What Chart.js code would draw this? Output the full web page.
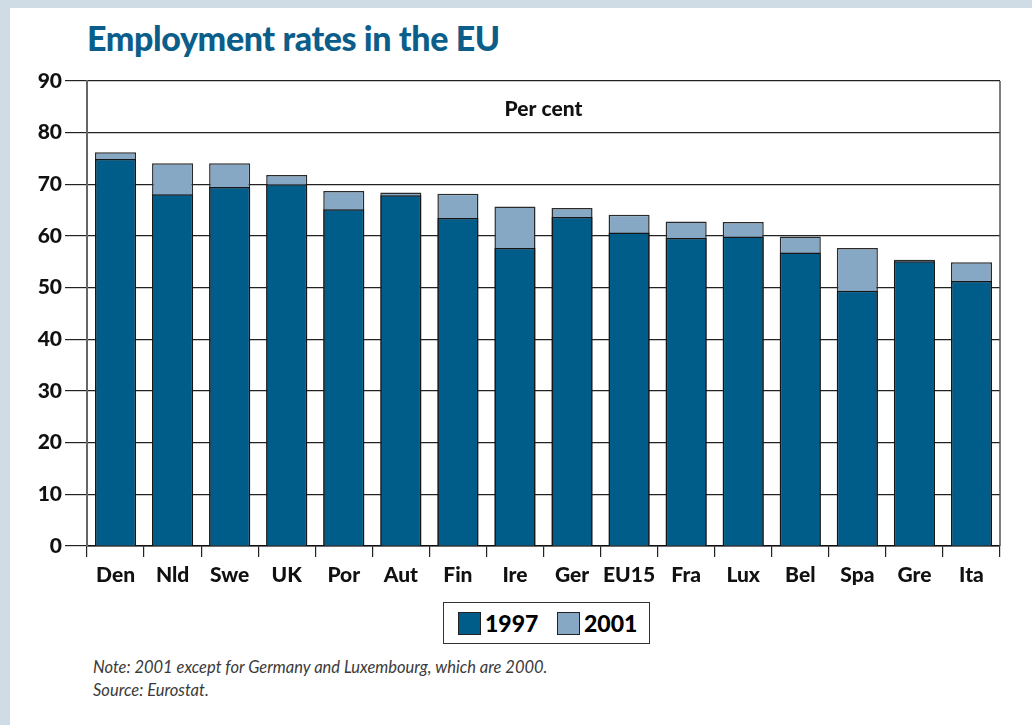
<!DOCTYPE html>
<html lang="en">
<head>
  <meta charset="UTF-8">
  <title>Employment rates in the EU</title>
  <style>
    body {
      margin: 0;
      width: 1032px;
      height: 725px;
      background: #fff;
      position: relative;
      overflow: hidden;
      font-family: Lato, "Open Sans", sans-serif;
    }
    /* light blue frame, top and left */
    .frame-top { position: absolute; left: 0; top: 0; width: 1032px; height: 8px; background: #cfdce6; }
    .frame-left { position: absolute; left: 0; top: 0; width: 10px; height: 725px; background: #cfdce6; }
    h1 {
      position: absolute;
      left: 87px;
      top: 17px;
      margin: 0;
      font-size: 34px;
      font-weight: 900;
      color: #0b5e8a;
      letter-spacing: -0.4px;
    }
    #wrap { position: absolute; left: 0; top: 0; width: 1032px; height: 600px; }
    .legend {
      position: absolute;
      left: 443px;
      top: 602px;
      width: 205px;
      height: 40px;
      border: 1px solid #333;
      font-weight: 900;
      font-size: 23px;
    }
    .legend span { position: absolute; top: 6px; }
    .legend i { position: absolute; top: 9px; width: 21px; height: 21px; border: 1px solid #222; }
    .note {
      position: absolute;
      left: 93px;
      top: 656px;
      font-size: 16.5px;
      font-style: italic;
      font-weight: 400;
      color: #3a3a3a;
      line-height: 23px;
    }
  </style>
  <script src="https://cdn.jsdelivr.net/npm/chart.js@4"></script>
</head>
<body>
  <div class="frame-top"></div>
  <div class="frame-left"></div>
  <h1>Employment rates in the EU</h1>
  <div id="wrap"><canvas id="chart" width="1032" height="600"></canvas></div>

  <div class="legend">
    <i style="left:14px; background:#005c89;"></i><span style="left:41px;">1997</span>
    <i style="left:113px; background:#86a8c5;"></i><span style="left:140px;">2001</span>
  </div>

  <div class="note">Note: 2001 except for Germany and Luxembourg, which are 2000.<br>Source: Eurostat.</div>

  <script>
    // data
    const countries = ['Den', 'Nld', 'Swe', 'UK', 'Por', 'Aut', 'Fin', 'Ire', 'Ger', 'EU15', 'Fra', 'Lux', 'Bel', 'Spa', 'Gre', 'Ita'];
    const rate1997 = [74.9, 68.1, 69.5, 70.0, 65.2, 67.9, 63.5, 57.7, 63.7, 60.7, 59.6, 59.9, 56.8, 49.4, 55.1, 51.3];
    const rate2001 = [76.2, 74.1, 74.1, 71.8, 68.7, 68.4, 68.2, 65.7, 65.4, 64.1, 62.8, 62.7, 59.9, 57.7, 55.4, 54.9];
    const yTicks = [0, 10, 20, 30, 40, 50, 60, 70, 80, 90];

    const darkBlue = '#005c89';
    const lightBlue = '#86a8c5';
    const labelFont = { family: 'Lato, "Open Sans", sans-serif', size: 21, weight: '900' };

    // "Per cent" text and right edge of the plot frame
    const frameAndCaption = {
      id: 'frameAndCaption',
      afterDraw(chart) {
        const { ctx, chartArea } = chart;
        ctx.save();
        ctx.strokeStyle = '#555';
        ctx.lineWidth = 1.5;
        ctx.beginPath();
        ctx.moveTo(chartArea.right, chartArea.top);
        ctx.lineTo(chartArea.right, chartArea.bottom);
        ctx.stroke();
        ctx.fillStyle = '#111';
        ctx.font = '900 21px Lato, "Open Sans", sans-serif';
        ctx.textAlign = 'center';
        ctx.textBaseline = 'middle';
        ctx.fillText('Per cent', (chartArea.left + chartArea.right) / 2, 109);
        ctx.restore();
      }
    };

    new Chart(document.getElementById('chart'), {
      type: 'bar',
      data: {
        labels: countries,
        datasets: [
          {
            label: '1997',
            data: rate1997,
            backgroundColor: darkBlue,
            borderColor: '#151515',
            borderWidth: 1.5,
            order: 0
          },
          {
            label: '2001',
            data: rate2001,
            backgroundColor: lightBlue,
            borderColor: '#2a2a2a',
            borderWidth: 1.5,
            order: 1
          }
        ]
      },
      options: {
        responsive: false,
        animation: false,
        layout: { padding: { top: 81, right: 32, left: 0, bottom: 0 } },
        datasets: { bar: { barPercentage: 0.72, categoryPercentage: 1 } },
        plugins: {
          legend: { display: false },
          tooltip: { enabled: false }
        },
        scales: {
          x: {
            stacked: true,
            grid: { drawOnChartArea: false, drawTicks: true, tickLength: 11, color: '#222', lineWidth: 1.2 },
            border: { color: '#111', width: 1.5 },
            ticks: { color: '#111', font: labelFont, padding: 6, maxRotation: 0, minRotation: 0, autoSkip: false },
            afterFit(scale) { scale.height = 54; }
          },
          y: {
            stacked: false,
            min: 0,
            max: 90,
            afterBuildTicks(scale) { scale.ticks = yTicks.map(v => ({ value: v })); },
            grid: { color: '#222', lineWidth: 1.2, tickLength: 22 },
            border: { color: '#666', width: 2 },
            ticks: { color: '#111', font: labelFont, padding: 3 },
            afterFit(scale) { scale.width = 87; }
          }
        }
      },
      plugins: [frameAndCaption]
    });
  </script>
</body>
</html>
